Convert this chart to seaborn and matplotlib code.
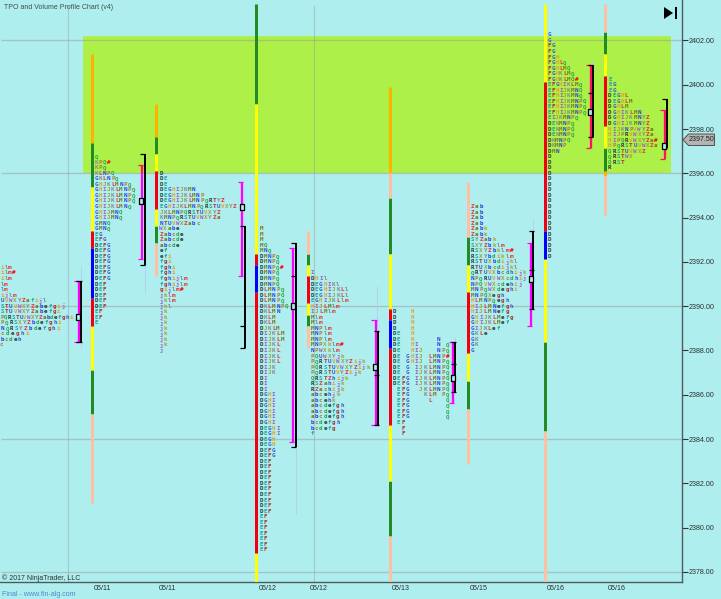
import matplotlib
matplotlib.use("Agg")
import matplotlib.pyplot as plt
import matplotlib.path as mpath
from matplotlib.patches import Rectangle, Polygon
import pandas as pd
import seaborn as sns

sns.set_style("white")
plt.rcParams['font.family'] = ['Liberation Sans', 'DejaVu Sans']

BG = "#AFEEEE"
LIME = "#ADF047"
MAG = "#FF00FF"
CRIM = "#FF1060"

title = "TPO and Volume Profile Chart (v4)"
copyright_text = "\u00a9 2017 NinjaTrader, LLC"
footer = "Final - www.fin-alg.com"
y_ticks = [2378, 2380, 2382, 2384, 2386, 2388, 2390, 2392, 2394, 2396, 2398, 2400, 2402]
x_tick_pos = [103, 167.5, 267.7, 318.7, 400.7, 478.7, 555.7, 616.3]
x_tick_labels = ["05/11", "05/11", "05/12", "05/12", "05/13", "05/15", "05/16", "05/16"]
grid_prices = [2402, 2396, 2390, 2384, 2378]
grid_x = [68, 314]
zone = (83, 671, 2396.0, 2402.2)
last_price = 2397.50

LETTERS = "DEFGHIJKLMNPQRSTUVWXYZabcdefghijklm"
LETTER_COLORS = ["#2f3a3a", "#23a49c", "#a83232", "#3a5cc8", "#e8a02c", "#a060c0",
                 "#a3a32c", "#848a8a", "#e63232", "#78781e", "#2c3ce0", "#a88040", "#2ca84a"]

# range bars: x, boundaries in price, colours (top to bottom)
O, G, Y, R, B, P = "#FFB300", "#228B22", "#FFFF00", "#F00010", "#0000FF", "#FFBFA0"
bar_x = [92, 156, 256, 307.5, 389.8, 467.5, 544.5, 605.3]
bar_edges = [
    [2401.375, 2397.375, 2395.375, 2393.375, 2392.625, 2390.375, 2389.125, 2387.125, 2385.125, 2381.125],
    [2399.125, 2397.625, 2396.875, 2396.125, 2394.375, 2393.625, 2392.875, 2391.375],
    [2403.65, 2399.125, 2392.375, 2391.875, 2390.625, 2378.875, 2377.56],
    [2393.375, 2392.375, 2391.875, 2391.375, 2390.125, 2389.625, 2389.125, 2388.125],
    [2399.875, 2396.0, 2394.875, 2392.375, 2389.875, 2389.375, 2388.125, 2384.625, 2382.125, 2379.625, 2377.56],
    [2395.625, 2393.125, 2391.875, 2390.625, 2387.875, 2386.625, 2385.375, 2382.875],
    [2403.65, 2400.125, 2393.375, 2392.125, 2388.375, 2384.375, 2377.56],
    [2403.65, 2402.375, 2401.375, 2400.375, 2398.125, 2397.125, 2396.125, 2395.875, 2394.125],
]
bar_colors = [
    [O, G, Y, R, B, R, Y, G, P],
    [O, G, Y, R, Y, G, P],
    [G, Y, R, B, R, Y],
    [P, G, Y, R, Y, G, P],
    [O, P, G, Y, R, B, R, Y, G, P],
    [P, G, Y, R, Y, G, P],
    [Y, R, B, Y, G, P],
    [P, G, Y, R, Y, G, O, P],
]

# value-area brackets: magenta x/top/bottom, black x/top/bottom, black mid ticks, POC x/price
va_x = [78.5, 142, 242, 293, 375.7, 453, 531, 590.5, 664.5]
va_top = [2391.125, 2396.375, 2395.625, 2392.625, 2389.375, 2388.375, 2392.875, 2400.875, 2398.875]
va_bot = [2388.375, 2392.125, 2391.375, 2383.875, 2384.625, 2385.625, 2389.125, 2397.125, 2396.625]
blk_x = [80.9, 144.5, 244.5, 295.5, 378, 455.3, 533.3, 592.7, 666.7]
blk_top = [2391.125, 2396.875, 2393.625, 2392.875, 2388.875, 2388.375, 2393.375, 2400.875, 2399.375]
blk_bot = [2388.375, 2391.875, 2388.125, 2383.625, 2384.625, 2386.125, 2389.875, 2397.625, 2397.125]
blk_mid = [[], [], [2389.125], [2391.375], [2386.875], [2387.375], [2391.625], [2399.625], []]
poc_x = [78, 141, 242, 293, 375.3, 453, 531, 590, 664]
poc_price = [2389.5, 2394.75, 2394.5, 2390.0, 2387.25, 2386.75, 2391.25, 2398.75, 2397.25]

# faint thin volume lines: x, top, bottom
thin_x = [80.5, 144.5, 295.5, 377, 455, 533, 592.5]
thin_top = [2391.8, 2391.875, 2383.625, 2390.9, 2388.6, 2394.0, 2401.1]
thin_bot = [2388.1, 2390.6, 2380.6, 2388.9, 2388.375, 2393.375, 2400.875]

# TPO letter rows, from each start price down in 0.25 steps
rows_0 = ["ilm", "ilm#", "ilm", "lm", "lm", "ijlm", "UVWXYZafijl", "STUVWXYZabefgij",
          "STUVWXYZabefgi", "PQRSTUVWXYZabdefghi", "PQRSXYZbdefghi", "NQRSYZbdefghi",
          "cdeghi", "bcdeh", "c"]
rows_0_end = [12, 16, 12, 8, 8, 16.7, 47, 65, 60.7, 73, 61.7, 60.7, 30, 21.7, 3]
rows_a = ["Q", "KPQ#", "KPQ", "KLNPQ", "GKLNPQ", "GHJKLMNPQ", "GHIJKLMNPQ", "GHIJKLMNPQ",
          "GHIJKLMNPQ", "GHIJKLMNQ", "GHIJMNQ", "GHIJMNQ", "GMNQ", "GMNQ", "EG", "EFG",
          "DEFG", "DEFG", "DEFG", "DEFG", "DEFG", "DEFG", "DEFG", "DEF", "DEF", "DEF", "DEF",
          "DEF", "EF", "EF", "E"]
rows_b = ["D", "DE", "DE", "DEGHIJKMN", "DEGHIJKLMNP", "DEGHIJKLMNPQRTYZ", "EGHIJKLMNPQRSTUVXYZ",
          "JKLMNPQRSTUVXYZ", "KMNPQRSTUVWXYZa", "NTUVWXZabc", "WXabe", "Zabcde", "Zabcde",
          "abcde", "ef", "efi", "fgi", "fghi", "fghi", "fghijlm", "fghijlm", "gijlm#", "jklm",
          "jklm", "jkl", "jk", "jk", "jk", "jk", "jk", "jk", "jk", "j"]
rows_c = ["M", "M", "M", "MQ", "MNQ", "DMNPQ", "DMNPQ", "DMNPQ#", "DMNPQ", "DMNPQ", "DMNPQ",
          "DLMNPQ", "DLMNPQ", "DLMNPQ", "DKLMNPQ", "DKLMN", "DKLM", "DKLM", "DJKLM", "DIJKLM",
          "DIJKLM", "DIJKL", "DIJKL", "DIJKL", "DIJKL", "DIJK", "DIJK", "DI", "DI", "DI",
          "DGHI", "DGHI", "DGHI", "DGHI", "DGHI", "DGHI", "DEGHI", "DEGHI", "DEGH", "DEGH",
          "DEFG", "DEFG", "DEF", "DEF", "DEF", "DEF", "DEF", "DEF", "DEF", "DEF", "DEF", "DEF",
          "EF", "EF", "EF", "EF", "EF", "EF", "EF"]
rows_d = ["I", "DHIl", "DEGHIKl", "DEGHIJKLl", "DEGHIJKLl", "EGHIJKLlm", "HIJLMlm", "IJLMlm",
          "Mlm", "Mlm", "MNPlm", "MNPlm", "MNPlm", "MNPXklm#", "NPWXklm", "PQUWXYjk",
          "PQRTUVWXYZijk", "PQRSTUVWXYZijk", "PQRSTUVYZijk", "QRSTZhijk", "RSZahijk", "RZachijk",
          "abcehjk", "abcehk", "abcdefgh", "abcdefgh", "abcdefgh", "bcdefgh", "bcdefg", "f"]
rows_e = ["D   H", "D   H", "D   H", "D   H", "DE  H", "DE  H     N", "DE  HI    N Q",
          "DE  HIJ   NPQ", "DE GHIJ LMNP#", "DE GHIJ LMNPQ", "DE G IJKLMNPQ", "DE G IJKLMNPQ",
          "DEFG IJKLMNPQ", "DEFG IJKLMNPQ", " EFG  JKLMNPQ", " EFG   KLM PQ", " EFG    L   Q",
          " EFG        Q", " EFG        Q", " EFG        Q", " EF", "  F", "  F"]
rows_f = ["Zab", "Zab", "Zab", "Zab", "Zabk", "Zabk", "SYZabk", "SXYZbklm", "RSXYZbklm#",
          "RSXYbdiklm", "RSTUXbdijkl", "RTUXbcdijkl", "QRTUVXbcdhijk", "NPQRUVWXcdhij",
          "NPQVWXcdehij", "MNPQWXdeghi", "MNPQXegh", "HLMNPQegh", "HIJLMNefgh", "HIJLMNefg",
          "GHIJKLMefg", "GHIJKLMef", "GIJKLef", "GKLe", "GK", "GK", "G"]
rows_g = ["G", "G", "FG", "FG", "FGH", "FGHLQ", "FGHLMQ", "FGHKLMQ", "FGHKLMQ#", "EFGHIKLMQ",
          "EFHIJKMNQ", "EFHIJKMNQ", "EFHIJKMNPQ", "EFHIJKMNPQ", "EFHIJKMNPQ", "EIJKMNPQ",
          "DEKMNPQ", "DEKMNPQ", "DEKMNPQ", "DKMNPQ", "DKMNP", "DMN"] + ["D"] * 19
rows_h = ["E", "EG", "EG", "DEGHL", "DEGHLM", "DGHLM", "DGHIKLMN", "DGHIJKMNYZ", "DGHIJKMNYZ",
          "HIJKNPVWYZa", "HIJPRVWXYZa", "HIPQRVWXYZa#", "HPQRSTUVWXZa", "QRSTUVWXZ",
          "QRSTWX", "QRST", "R"]
prof_rows = [rows_a, rows_b, rows_c, rows_d, rows_e, rows_f, rows_g, rows_h]
prof_top = [2396.75, 2396.0, 2393.5, 2391.5, 2389.75, 2394.5, 2402.25, 2400.25]
prof_x0 = [94.3, 159, 259, 310, 392, 470, 547.3, 607.7]
prof_step = [4.1, 4.09, 4.2, 4.29, 4.45, 4.36, 3.87, 4.2]
rows_0_top = 2391.75

W, H = 721, 599
fig = plt.figure(figsize=(W / 100, H / 100), dpi=100, facecolor=BG)
ax = fig.add_axes([0, (H - 581.7) / H, 682.3 / W, 581.7 / H], facecolor=BG)
ax.set_xlim(0, 682.3)
ax.set_ylim(2377.562, 2403.824)

# zone and grid
ax.add_patch(Rectangle((zone[0], zone[2]), zone[1] - zone[0], zone[3] - zone[2],
                       facecolor=LIME, edgecolor="none", zorder=1))
ax.hlines(grid_prices, 1, 682.3, color="#a0a0a0", alpha=0.55, lw=0.95, zorder=1.2)
ax.vlines(grid_x, 2377.56, 2403.6, color="#a0a0a0", alpha=0.5, lw=0.8, zorder=1.2)

# range bars through seaborn
rec = []
for i, (xv, edges, cols) in enumerate(zip(bar_x, bar_edges, bar_colors)):
    for j, c in enumerate(cols):
        uid = f"{i}-{j}"
        rec.append((xv, edges[j], uid, c))
        rec.append((xv, edges[j + 1], uid, c))
bars = pd.DataFrame(rec, columns=["x", "price", "seg", "color"])
sns.lineplot(data=bars, x="x", y="price", hue="color", units="seg", estimator=None, sort=False,
             palette={c: c for c in bars["color"].unique()}, linewidth=2.16,
             solid_capstyle="butt", legend=False, ax=ax, zorder=3)

# thin volume lines
ax.vlines(thin_x, thin_bot, thin_top, color="#b4cdf0", lw=0.6, zorder=2)


def mag_color_line(x, top, bot):
    """Magenta turns crimson inside the lime zone."""
    if top > zone[2]:
        ax.vlines(x, max(bot, zone[2]), top, color=CRIM, lw=1.65, zorder=4)
        ax.hlines(top, x - 4.5, x + 0.8, color=CRIM, lw=0.9, zorder=4)
    if bot < zone[2]:
        ax.vlines(x, bot, min(top, zone[2]), color=MAG, lw=1.65, zorder=4)
        if top <= zone[2]:
            ax.hlines(top, x - 4.5, x + 0.8, color=MAG, lw=0.9, zorder=4)
    col = CRIM if bot > zone[2] else MAG
    ax.hlines(bot, x - 4.5, x + 0.8, color=col, lw=0.9, zorder=4)


for k in range(len(va_x)):
    mag_color_line(va_x[k], va_top[k], va_bot[k])
    ax.vlines(blk_x[k], blk_bot[k], blk_top[k], color="black", lw=1.4, zorder=5)
    for t in [blk_top[k], blk_bot[k]] + blk_mid[k]:
        ax.hlines(t, blk_x[k] - 4.5, blk_x[k] + 0.7, color="black", lw=0.9, zorder=5)

box = mpath.Path([(-.25, -.5), (.25, -.5), (.25, .5), (-.25, .5), (-.25, -.5)], closed=True)
ax.plot(poc_x, poc_price, ls="none", marker=box, ms=5, mfc=BG, mec="black", mew=0.9, zorder=6)


def letter_color(ch):
    if ch == "#":
        return "#FF0000"
    return LETTER_COLORS[LETTERS.index(ch) % 13]


def draw_row(chars, x0, step, price):
    for col, ch in enumerate(chars):
        if ch == " ":
            continue
        ax.text(x0 + (col + 0.5) * step, price, ch, color=letter_color(ch), fontsize=4.2,
                family="DejaVu Sans Mono", fontweight="bold", ha="center", va="center",
                zorder=2.5, clip_on=True)


for i, r in enumerate(rows_0):
    draw_row(r, 0, rows_0_end[i] / len(r), rows_0_top - 0.25 * i)
for rows, top, x0, step in zip(prof_rows, prof_top, prof_x0, prof_step):
    for i, r in enumerate(rows):
        draw_row(r, x0, step, top - 0.25 * i)

# axes furniture
sns.despine(ax=ax, left=True, top=True, right=False, bottom=False)
for s in ("right", "bottom"):
    ax.spines[s].set_color("#505a5a")
    ax.spines[s].set_linewidth(1.0)
ax.yaxis.tick_right()
ax.set_yticks(y_ticks)
ax.set_yticklabels([f"{v:.2f}" for v in y_ticks])
ax.tick_params(axis="y", right=True, length=4, width=0.8, color="#333333", labelsize=5.1,
               labelcolor="#2a3030", pad=0.8)
ax.set_xticks(x_tick_pos)
ax.set_xticklabels(x_tick_labels)
ax.tick_params(axis="x", bottom=False, length=0, labelsize=5.1, labelcolor="#2a3030", pad=2.4)
ax.set_xlabel("")
ax.set_ylabel("")


def fy(px):
    return 1 - px / H


fig.text(4 / W, fy(7.3), title, fontsize=5.05, color="#444c4c", va="center")
fig.text(2 / W, fy(578), copyright_text, fontsize=5.05, color="#2a3030", va="center")
fig.text(2 / W, fy(594.7), footer, fontsize=5.1, color="#4a8cc8", va="center")

# last price tag
fig.add_artist(Polygon([(683 / W, fy(139.8)), (688.5 / W, fy(134)), (714.5 / W, fy(134)),
                        (714.5 / W, fy(145.5)), (688.5 / W, fy(145.5))], closed=True,
                       transform=fig.transFigure, facecolor="#b4b4b4", edgecolor="#505050", lw=0.7,
                       zorder=8))
fig.text(701.5 / W, fy(139.8), f"{last_price:.2f}", fontsize=5.1, color="#202020", ha="center",
         va="center", zorder=9)

# go-to-end icon
fig.add_artist(Polygon([(664 / W, fy(7)), (673 / W, fy(13)), (664 / W, fy(19))], closed=True,
                       transform=fig.transFigure, facecolor="black", edgecolor="none"))
fig.add_artist(Rectangle((675 / W, fy(19)), 1.6 / W, 12 / H, transform=fig.transFigure,
                         facecolor="black", edgecolor="none"))

fig.savefig("out.png", dpi=100, facecolor=BG)
